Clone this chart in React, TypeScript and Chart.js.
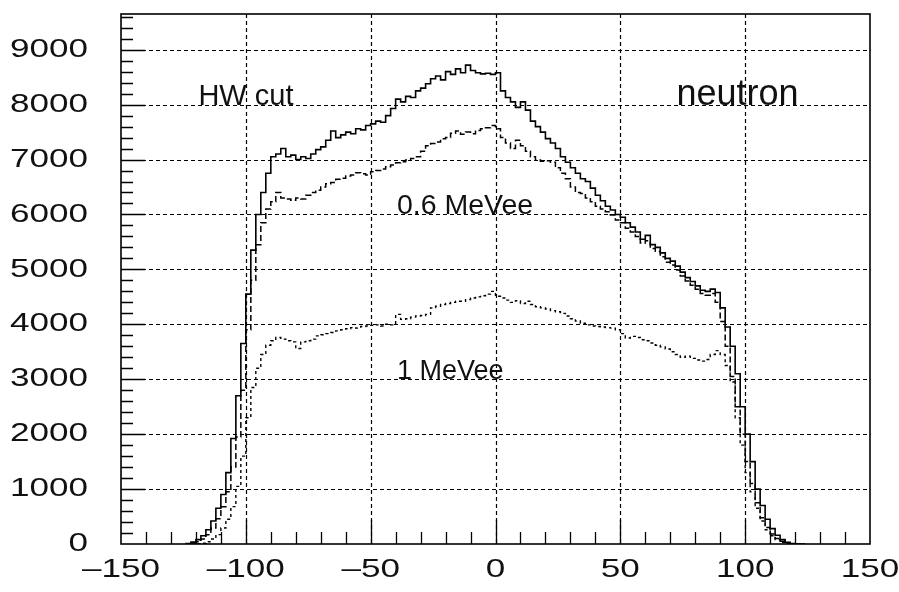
import { useEffect, useRef } from 'react';
import { Chart, registerables } from 'chart.js';

Chart.register(...registerables);

// Histogram binning (left edge of first bin, bin width)
const BIN_START = -124;
const BIN_WIDTH = 2;

// HW cut (solid) – counts per bin, bin centres -123 ... 123
const hwCut = [
  0, 10, 35, 80, 150, 260, 420, 650, 900, 1300,
  1920, 2700, 3650, 4550, 5350, 6000, 6400, 6750, 7050, 7100,
  7200, 7050, 7080, 7000, 7050, 7020, 7100, 7180, 7230, 7350,
  7520, 7400, 7450, 7500, 7470, 7560, 7540, 7620, 7650, 7700,
  7680, 7800, 7930, 8100, 8050, 8150, 8130, 8250, 8300, 8380,
  8470, 8520, 8450, 8600, 8550, 8650, 8580, 8720, 8620, 8580,
  8560, 8570, 8550, 8580, 8250, 8130, 8050, 7950, 8050, 7900,
  7700, 7600, 7500, 7380, 7300, 7200, 7050, 6950, 6850, 6750,
  6650, 6600, 6480, 6350, 6250, 6150, 6080, 6000, 5950, 5850,
  5770, 5680, 5550, 5620, 5450, 5400, 5300, 5200, 5150, 5060,
  4950, 4850, 4780, 4700, 4620, 4600, 4640, 4580, 4300, 3950,
  3600, 3100, 2500, 2000, 1500, 1000, 700, 450, 280, 160,
  80, 30, 10, 0,
];

// 0.6 MeVee threshold (dashed)
const mev06 = [
  0, 0, 15, 40, 90, 170, 290, 460, 680, 950,
  1400, 1950, 2800, 3900, 4800, 5450, 5850, 6100, 6230, 6400,
  6300, 6280, 6260, 6300, 6280, 6350, 6400, 6440, 6500, 6560,
  6580, 6640, 6660, 6700, 6720, 6760, 6740, 6720, 6780, 6800,
  6830, 6870, 6900, 6940, 6960, 6990, 7020, 7050, 7150, 7250,
  7290, 7320, 7380, 7400, 7480, 7520, 7460, 7500, 7470, 7530,
  7560, 7580, 7620, 7560, 7400, 7300, 7200, 7350, 7250, 7150,
  7050, 6990, 6970, 6980, 6950, 6850, 6750, 6650, 6500, 6400,
  6380, 6300, 6230, 6150, 6100, 6050, 5990, 5900, 5850, 5750,
  5680, 5600, 5480, 5520, 5380, 5330, 5230, 5130, 5080, 4990,
  4880, 4790, 4710, 4640, 4560, 4530, 4560, 4400, 4050, 3600,
  3050, 2500, 2000, 1500, 1100, 750, 480, 300, 180, 100,
  50, 20, 5, 0,
];

// 1 MeVee threshold (dotted)
const mev1 = [
  0, 0, 0, 5, 15, 40, 90, 170, 290, 450,
  680, 1050, 1600, 2300, 2850, 3200, 3450, 3620, 3700, 3760,
  3730, 3700, 3680, 3560, 3680, 3700, 3730, 3790, 3810, 3830,
  3850, 3880, 3900, 3920, 3940, 3930, 3960, 3970, 3980, 3990,
  3970, 4000, 3990, 4180, 4090, 4100, 4130, 4150, 4160, 4180,
  4300, 4330, 4360, 4380, 4400, 4420, 4420, 4450, 4480, 4500,
  4520, 4550, 4600, 4510, 4480, 4440, 4400, 4430, 4380, 4420,
  4360, 4320, 4300, 4280, 4250, 4230, 4200, 4150, 4100, 4060,
  4020, 3990, 3970, 3960, 3950, 3940, 3930, 3900, 3830, 3750,
  3780, 3760, 3720, 3700, 3660, 3620, 3590, 3550, 3500, 3450,
  3400, 3420, 3380, 3350, 3330, 3360, 3450, 3520, 3450, 3250,
  2950, 2300, 1800, 1300, 950, 650, 420, 260, 150, 80,
  30, 10, 0, 0,
];

// Axes
const yTickValues = [0, 1000, 2000, 3000, 4000, 5000, 6000, 7000, 8000, 9000];
const yTickLabels = ['0', '1000', '2000', '3000', '4000', '5000', '6000', '7000', '8000', '9000'];
const xTickValues = [-150, -100, -50, 0, 50, 100, 150];
const xTickLabels = ['\u2013150', '\u2013100', '\u201350', '0', '50', '100', '150'];
const yGridValues = [1000, 2000, 3000, 4000, 5000, 6000, 7000, 8000, 9000];
const xGridValues = [-100, -50, 0, 50, 100];
const X_MIN = -150;
const X_MAX = 150;
const Y_MIN = 0;
const Y_MAX = 9650;
const Y_MINOR_STEP = 200;
const X_MINOR_STEP = 10;

// Text labels on the plot
const noteTexts = ['HW cut', 'neutron', '0.6 MeVee', '1 MeVee'];
const noteX = [-119, 72.5, -39.5, -39.5];
const noteY = [8000, 8000, 6000, 3000];
const noteSize = [29, 36, 28.5, 27];

const FONT = '"Liberation Sans", Arial, Helvetica, sans-serif';

function toSteps(values: number[]) {
  const pts = values.map((v, i) => ({ x: BIN_START + i * BIN_WIDTH, y: v }));
  pts.push({ x: BIN_START + values.length * BIN_WIDTH, y: 0 });
  return pts;
}

function stretchedText(ctx: CanvasRenderingContext2D, text: string, x: number, y: number, align: CanvasTextAlign, sx: number) {
  ctx.save();
  ctx.translate(x, y);
  ctx.scale(sx, 1);
  ctx.textAlign = align;
  ctx.fillText(text, 0, 0);
  ctx.restore();
}

const histFramePlugin = {
  id: 'histFrame',
  beforeDatasetsDraw(chart: any) {
    const { ctx, chartArea: a, scales } = chart;
    const xs = scales.x;
    const ys = scales.y;
    ctx.save();
    ctx.strokeStyle = '#000';
    ctx.lineWidth = 1.2;
    ctx.setLineDash([4, 3]);
    ctx.beginPath();
    for (const v of yGridValues) {
      const py = Math.round(ys.getPixelForValue(v)) + 0.5;
      ctx.moveTo(a.left, py);
      ctx.lineTo(a.right, py);
    }
    for (const v of xGridValues) {
      const px = Math.round(xs.getPixelForValue(v)) + 0.5;
      ctx.moveTo(px, a.top);
      ctx.lineTo(px, a.bottom);
    }
    ctx.stroke();
    ctx.restore();
  },
  afterDatasetsDraw(chart: any) {
    const { ctx, chartArea: a, scales } = chart;
    const xs = scales.x;
    const ys = scales.y;
    ctx.save();
    ctx.strokeStyle = '#000';
    ctx.setLineDash([]);
    // frame
    ctx.lineWidth = 1.6;
    ctx.strokeRect(a.left, a.top, a.right - a.left, a.bottom - a.top);
    // y ticks (inward)
    ctx.lineWidth = 1.3;
    ctx.beginPath();
    for (let v = Y_MINOR_STEP; v < Y_MAX; v += Y_MINOR_STEP) {
      const py = Math.round(ys.getPixelForValue(v)) + 0.5;
      const len = v % 1000 === 0 ? 24 : 12;
      ctx.moveTo(a.left, py);
      ctx.lineTo(a.left + len, py);
    }
    // x ticks (inward)
    for (let v = X_MIN + X_MINOR_STEP; v < X_MAX; v += X_MINOR_STEP) {
      const px = Math.round(xs.getPixelForValue(v)) + 0.5;
      const len = v % 50 === 0 ? 24 : 12;
      ctx.moveTo(px, a.bottom);
      ctx.lineTo(px, a.bottom - len);
    }
    ctx.stroke();

    // tick labels
    ctx.fillStyle = '#111';
    ctx.font = `26px ${FONT}`;
    ctx.textBaseline = 'middle';
    yTickValues.forEach((v, i) => {
      stretchedText(ctx, yTickLabels[i], a.left - 33, ys.getPixelForValue(v), 'right', 1.35);
    });
    xTickValues.forEach((v, i) => {
      stretchedText(ctx, xTickLabels[i], xs.getPixelForValue(v), a.bottom + 26, 'center', 1.35);
    });

    // annotations
    ctx.textBaseline = 'alphabetic';
    noteTexts.forEach((t, i) => {
      ctx.font = `${noteSize[i]}px ${FONT}`;
      ctx.textAlign = 'left';
      ctx.fillText(t, xs.getPixelForValue(noteX[i]), ys.getPixelForValue(noteY[i]));
    });
    ctx.restore();
  },
};

export default function App() {
  const canvasRef = useRef<HTMLCanvasElement | null>(null);

  useEffect(() => {
    document.body.style.margin = '0';
    const canvas = canvasRef.current;
    if (!canvas) return;
    const chart = new Chart(canvas, {
      type: 'line',
      data: {
        datasets: [
          {
            label: 'HW cut',
            data: toSteps(hwCut),
            stepped: 'after',
            borderColor: '#000',
            borderWidth: 1.6,
            pointRadius: 0,
            fill: false,
          },
          {
            label: '0.6 MeVee',
            data: toSteps(mev06),
            stepped: 'after',
            borderColor: '#000',
            borderWidth: 1.5,
            borderDash: [6, 3],
            pointRadius: 0,
            fill: false,
          },
          {
            label: '1 MeVee',
            data: toSteps(mev1),
            stepped: 'after',
            borderColor: '#000',
            borderWidth: 1.4,
            borderDash: [3, 3],
            pointRadius: 0,
            fill: false,
          },
        ],
      } as any,
      options: {
        animation: false,
        responsive: false,
        events: [],
        layout: { padding: { left: 121, right: 29, top: 14, bottom: 48 } },
        plugins: { legend: { display: false }, tooltip: { enabled: false } },
        scales: {
          x: { type: 'linear', min: X_MIN, max: X_MAX, display: false },
          y: { type: 'linear', min: Y_MIN, max: Y_MAX, display: false },
        },
      } as any,
      plugins: [histFramePlugin as any],
    });
    return () => chart.destroy();
  }, []);

  return (
    <div style={{ width: 899, height: 592, background: '#fff' }}>
      <canvas ref={canvasRef} width={899} height={592} style={{ display: 'block' }} />
    </div>
  );
}
